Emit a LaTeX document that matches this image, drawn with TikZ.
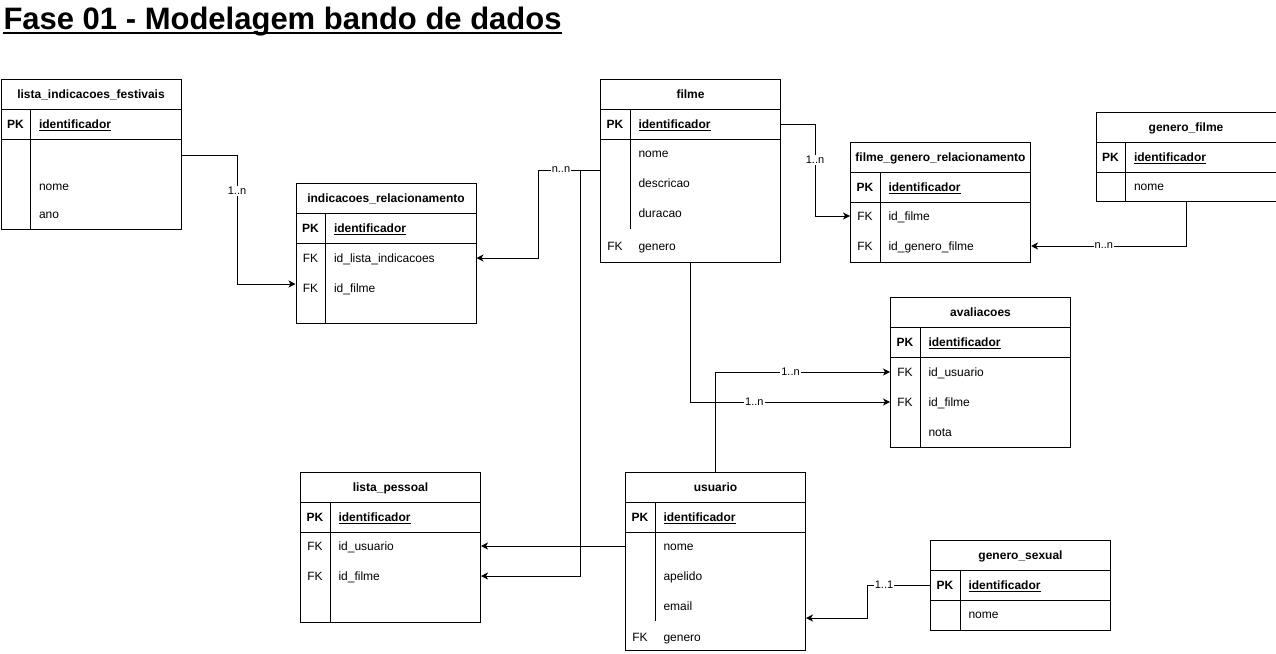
\documentclass[tikz,border=0pt]{standalone}
\usepackage{fontspec}
\setmainfont{Liberation Sans}
\usetikzlibrary{arrows.meta}

\begin{document}
\begin{tikzpicture}[x=1pt, y=-1pt, line width=1pt,
    >={Stealth[length=7pt,width=7pt,inset=2pt]},
    tabl/.style={draw, inner sep=0, anchor=north west, minimum width=180},
    txt/.style={inner sep=0, text height=9, text depth=0, font=\fontsize{12}{14}\selectfont},
    hdr/.style={txt, font=\fontsize{12}{14}\selectfont\bfseries},
    fld/.style={txt, anchor=west},
    pk/.style={fld, font=\fontsize{12}{14}\selectfont\bfseries},
    kcol/.style={txt},
    lbl/.style={fill=white, inner sep=1pt, font=\fontsize{11}{13}\selectfont}]
\useasboundingbox (0,0) rectangle (1276,653);

% titulo
\node[anchor=base west, inner sep=0, font=\fontsize{31}{36}\selectfont\bfseries] (titulo) at (3,29) {Fase 01 - Modelagem bando de dados};
\draw[line width=2.5pt] ([yshift=-4pt]titulo.base west) -- ([yshift=-4pt]titulo.base east);

% lista_indicacoes_festivais
\node[tabl, minimum height=150] (lif) at (0.5,79) {};
\node[hdr] at ([yshift=-15pt]lif.north) {lista\_indicacoes\_festivais};
\draw (0.5,109) -- ++(180,0) (0.5,139) -- ++(180,0) (30.5,109) -- (30.5,229);
\node[kcol, font=\fontsize{12}{14}\selectfont\bfseries] at (15.5,124) {PK};
\node[pk] at (38.5,124) {\underline{identificador}};
\foreach \y/\t in {186/nome, 214/ano}
    \node[fld] at (38.5,\y) {\t};

% indicacoes_relacionamento
\node[tabl, minimum height=140] (ir) at (295.5,183) {};
\node[hdr] at ([yshift=-15pt]ir.north) {indicacoes\_relacionamento};
\draw (295.5,213) -- ++(180,0) (295.5,243) -- ++(180,0) (325.5,213) -- (325.5,323);
\node[kcol, font=\fontsize{12}{14}\selectfont\bfseries] at (310.5,228) {PK};
\node[pk] at (333.5,228) {\underline{identificador}};
\foreach \y/\t in {258/id\_lista\_indicacoes, 288/id\_filme}
{
    \node[kcol] at (310.5,\y) {FK};
    \node[fld] at (333.5,\y) {\t};
}

% filme
\node[tabl, minimum height=183] (filme) at (600,79) {};
\node[hdr] at ([yshift=-15pt]filme.north) {filme};
\draw (600,109) -- ++(180,0) (600,139) -- ++(180,0) (630,109) -- (630,229);
\node[kcol, font=\fontsize{12}{14}\selectfont\bfseries] at (615,124) {PK};
\node[pk] at (638,124) {\underline{identificador}};
\foreach \y/\t in {153/nome, 183/descricao, 213/duracao, 246/genero}
    \node[fld] at (638,\y) {\t};
\node[kcol] at (615,246) {FK};

% filme_genero_relacionamento
\node[tabl, minimum height=120] (fgr) at (850,142) {};
\node[hdr] at ([yshift=-15pt]fgr.north) {filme\_genero\_relacionamento};
\draw (850,172) -- ++(180,0) (850,202) -- ++(180,0) (880,172) -- (880,262);
\node[kcol, font=\fontsize{12}{14}\selectfont\bfseries] at (865,187) {PK};
\node[pk] at (888,187) {\underline{identificador}};
\foreach \y/\t in {216/id\_filme, 246/id\_genero\_filme}
{
    \node[kcol] at (865,\y) {FK};
    \node[fld] at (888,\y) {\t};
}

% genero_filme
\node[tabl, minimum height=89] (gf) at (1095.5,112) {};
\node[hdr] at ([yshift=-15pt]gf.north) {genero\_filme};
\draw (1095.5,142) -- ++(180,0) (1095.5,172) -- ++(180,0) (1125.5,142) -- (1125.5,201);
\node[kcol, font=\fontsize{12}{14}\selectfont\bfseries] at (1110.5,157) {PK};
\node[pk] at (1133.5,157) {\underline{identificador}};
\node[fld] at (1133.5,186) {nome};

% avaliacoes
\node[tabl, minimum height=150] (av) at (890,297) {};
\node[hdr] at ([yshift=-15pt]av.north) {avaliacoes};
\draw (890,327) -- ++(180,0) (890,357) -- ++(180,0) (920,327) -- (920,447);
\node[kcol, font=\fontsize{12}{14}\selectfont\bfseries] at (905,342) {PK};
\node[pk] at (928,342) {\underline{identificador}};
\foreach \y/\t in {372/id\_usuario, 402/id\_filme}
{
    \node[kcol] at (905,\y) {FK};
    \node[fld] at (928,\y) {\t};
}
\node[fld] at (928,432) {nota};

% lista_pessoal
\node[tabl, minimum height=150] (lp) at (300,472) {};
\node[hdr] at ([yshift=-15pt]lp.north) {lista\_pessoal};
\draw (300,502) -- ++(180,0) (300,532) -- ++(180,0) (330,502) -- (330,622);
\node[kcol, font=\fontsize{12}{14}\selectfont\bfseries] at (315,517) {PK};
\node[pk] at (338,517) {\underline{identificador}};
\foreach \y/\t in {546/id\_usuario, 576/id\_filme}
{
    \node[kcol] at (315,\y) {FK};
    \node[fld] at (338,\y) {\t};
}

% usuario
\node[tabl, minimum height=178] (us) at (625,472) {};
\node[hdr] at ([yshift=-15pt]us.north) {usuario};
\draw (625,502) -- ++(180,0) (625,532) -- ++(180,0) (655,502) -- (655,621);
\node[kcol, font=\fontsize{12}{14}\selectfont\bfseries] at (640,517) {PK};
\node[pk] at (663,517) {\underline{identificador}};
\foreach \y/\t in {546/nome, 576/apelido, 606/email, 637/genero}
    \node[fld] at (663,\y) {\t};
\node[kcol] at (640,637) {FK};

% genero_sexual
\node[tabl, minimum height=90] (gs) at (930,540) {};
\node[hdr] at ([yshift=-15pt]gs.north) {genero\_sexual};
\draw (930,570) -- ++(180,0) (930,600) -- ++(180,0) (960,570) -- (960,630);
\node[kcol, font=\fontsize{12}{14}\selectfont\bfseries] at (945,585) {PK};
\node[pk] at (968,585) {\underline{identificador}};
\node[fld] at (968,614) {nome};

% ligacoes
\draw[->] (lif.east |- 0,155) -- (237,155) -- node[lbl, pos=.28]{1..n} (237,284) -- (ir.west |- 0,284);
\draw[->] (filme.west |- 0,170) -- (580,170) -- (580,576) -- (lp.east |- 0,576);
\draw[->] (filme.west |- 0,170) -- node[lbl, pos=.63]{n..n} (538,170) -- (538,258) -- (ir.east |- 0,258);
\draw[->] (filme.east |- 0,124) -- (815,124) -- node[lbl, pos=.39]{1..n} (815,216) -- (fgr.west |- 0,216);
\draw[->] (gf.south) -- (gf.south |- 0,246) -- node[lbl, pos=.53]{n..n} (fgr.east |- 0,246);
\draw[->] (filme.south) -- (filme.south |- 0,402) -- node[lbl, pos=.32]{1..n} (av.west |- 0,402);
\draw[->] (us.north) -- (us.north |- 0,372) -- node[lbl, pos=.43]{1..n} (av.west |- 0,372);
\draw[->] (us.west |- 0,546) -- (lp.east |- 0,546);
\draw[->] (gs.west |- 0,585) -- node[lbl, pos=.73]{1..1} (867,585) -- (867,618) -- (us.east |- 0,618);
\end{tikzpicture}
\end{document}
